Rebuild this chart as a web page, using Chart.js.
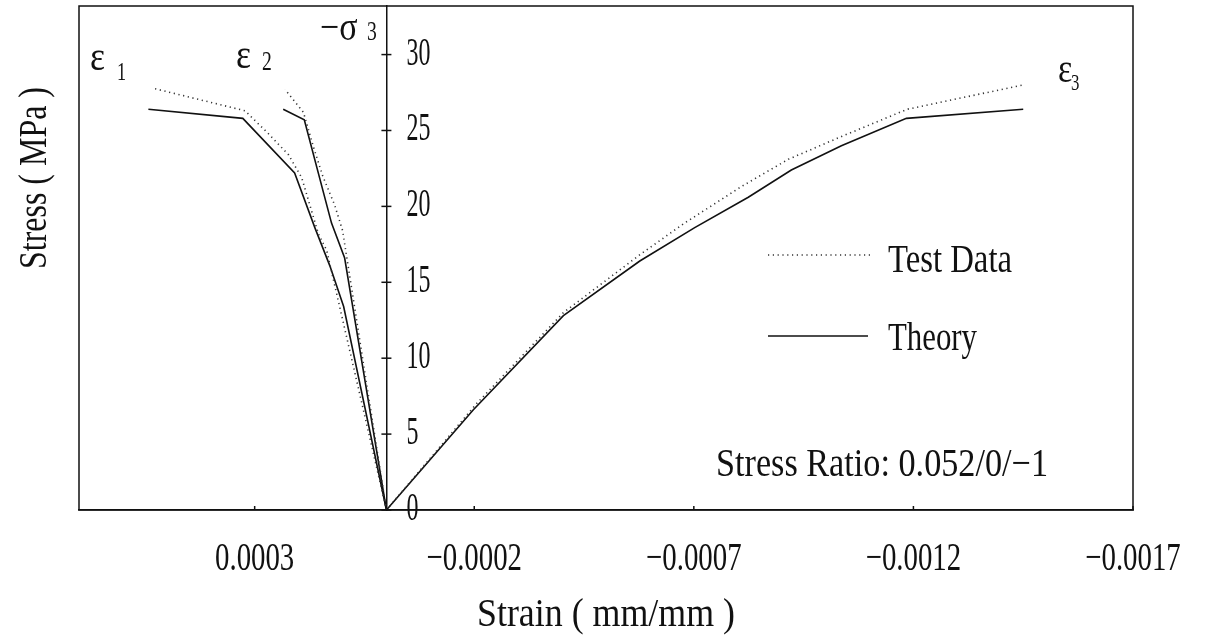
<!DOCTYPE html>
<html>
<head>
<meta charset="utf-8">
<title>Stress - Strain</title>
<script src="https://cdn.jsdelivr.net/npm/chart.js@4.4.1/dist/chart.umd.min.js"></script>
<style>
  html, body { margin: 0; padding: 0; background: #fff; }
  #wrap { width: 1207px; height: 644px; }
</style>
</head>
<body>
<div id="wrap"><canvas id="stressChart" width="1207" height="644"></canvas></div>
<script>
// x axis runs from +0.0007 (left) to -0.0017 (right)
const strainTicks = [0.0003, -0.0002, -0.0007, -0.0012, -0.0017];
const strainTickLabels = ['0.0003', '\u22120.0002', '\u22120.0007', '\u22120.0012', '\u22120.0017'];
const stressTicks = [0, 5, 10, 15, 20, 25, 30];
const stressTickLabels = ['0', '5', '10', '15', '20', '25', '30'];

// theory curves
const theoryE1Strain = [0, 0.0000974, 0.000129, 0.000163, 0.000209, 0.000327, 0.000542];
const theoryE1Stress = [0, 13.4, 16.1, 18.6, 22.2, 25.8, 26.4];
const theoryE2Strain = [0, 0.0000951, 0.000125, 0.000187, 0.000235];
const theoryE2Stress = [0, 16.6, 18.9, 25.7, 26.4];
const theoryE3Strain = [0, -0.000198, -0.000403, -0.000577, -0.000702, -0.000824, -0.000922, -0.001036, -0.001184, -0.00145];
const theoryE3Stress = [0, 6.6, 12.8, 16.4, 18.6, 20.6, 22.4, 24.0, 25.8, 26.4];

// test data
const testE1Strain = [0, 0.000136, 0.000155, 0.000193, 0.000223, 0.000269, 0.000322, 0.000534];
const testE1Stress = [0, 17.1, 18.2, 21.9, 23.4, 24.8, 26.3, 27.8];
const testE2Strain = [0, 0.0000906, 0.0000997, 0.000118, 0.000145, 0.000166, 0.000189, 0.000231];
const testE2Stress = [0, 16.7, 18.4, 20.1, 22.0, 23.9, 26.2, 27.7];
const testE3Strain = [0, -0.000205, -0.000403, -0.000581, -0.000679, -0.000808, -0.000915, -0.001036, -0.001186, -0.00145];
const testE3Stress = [0, 7.0, 13.0, 16.9, 18.9, 21.3, 23.1, 24.6, 26.4, 28.0];

const FONT = '"Liberation Serif", "DejaVu Serif", serif';
const INK = '#111';

function points(xs, ys) {
    return xs.map(function (x, i) { return { x: x, y: ys[i] }; });
}

function testSet(xs, ys) {
    return {
        data: points(xs, ys),
        borderColor: '#333',
        borderWidth: 1.6,
        borderDash: [1.2, 3.6],
        pointRadius: 0,
        tension: 0
    };
}

function theorySet(xs, ys) {
    return {
        data: points(xs, ys),
        borderColor: INK,
        borderWidth: 1.6,
        pointRadius: 0,
        tension: 0
    };
}

// narrow serif text, squeezed to a given width
function drawFit(ctx, str, x, y, size, width, align) {
    ctx.save();
    ctx.font = size + 'px ' + FONT;
    ctx.textBaseline = 'alphabetic';
    ctx.textAlign = 'left';
    const raw = ctx.measureText(str).width;
    const k = width / raw;
    let left = x;
    if (align === 'center') left = x - width / 2;
    else if (align === 'right') left = x - width;
    ctx.translate(left, y);
    ctx.scale(k, 1);
    ctx.fillStyle = INK;
    ctx.fillText(str, 0, 0);
    ctx.restore();
}

function drawSqueezed(ctx, str, x, y, size, squeeze, align) {
    ctx.save();
    ctx.font = size + 'px ' + FONT;
    const w = ctx.measureText(str).width * squeeze;
    ctx.restore();
    drawFit(ctx, str, x, y, size, w, align);
    return w;
}

const decorations = {
    id: 'decorations',
    afterDraw: function (chart) {
        const ctx = chart.ctx;
        const area = chart.chartArea;
        const xs = chart.scales.x;
        const ys = chart.scales.y;
        const x0 = xs.getPixelForValue(0);

        ctx.save();
        ctx.strokeStyle = INK;
        ctx.lineWidth = 1.5;
        ctx.strokeRect(area.left, area.top, area.right - area.left, area.bottom - area.top);

        // x ticks
        xs.ticks.forEach(function (t, i) {
            const px = xs.getPixelForValue(t.value);
            ctx.beginPath();
            ctx.moveTo(px, area.bottom);
            ctx.lineTo(px, area.bottom - 4);
            ctx.stroke();
            drawSqueezed(ctx, strainTickLabels[i], px, area.bottom + 60, 40, 0.72, 'center');
        });

        // y ticks cross the zero-strain axis
        ys.ticks.forEach(function (t, i) {
            const py = ys.getPixelForValue(t.value);
            ctx.beginPath();
            ctx.moveTo(x0 - 5, py);
            ctx.lineTo(x0 + 5, py);
            ctx.stroke();
            drawSqueezed(ctx, stressTickLabels[i], x0 + 20, py + 10, 40, 0.6, 'left');
        });

        // axis titles
        drawFit(ctx, 'Strain ( mm/mm )', (area.left + area.right) / 2, 626, 40, 258, 'center');
        ctx.save();
        ctx.translate(46, 178);
        ctx.rotate(-Math.PI / 2);
        drawFit(ctx, 'Stress ( MPa )', 0, 0, 40, 182, 'center');
        ctx.restore();

        // curve labels
        drawSqueezed(ctx, '\u03b5', 90, 70, 42, 0.85, 'left');
        drawSqueezed(ctx, '1', 117, 80, 26, 0.7, 'left');
        drawSqueezed(ctx, '\u03b5', 236, 68, 42, 0.85, 'left');
        drawSqueezed(ctx, '2', 262, 70, 28, 0.7, 'left');
        drawSqueezed(ctx, '\u2212\u03c3', 320, 40, 40, 0.85, 'left');
        drawSqueezed(ctx, '3', 367, 40, 28, 0.7, 'left');
        drawSqueezed(ctx, '\u03b5', 1058, 82, 40, 0.85, 'left');
        drawSqueezed(ctx, '3', 1071, 90, 24, 0.7, 'left');

        // legend
        ctx.lineWidth = 1.6;
        ctx.strokeStyle = '#333';
        ctx.setLineDash([1.2, 3.6]);
        ctx.beginPath();
        ctx.moveTo(768, 255);
        ctx.lineTo(870, 255);
        ctx.stroke();
        ctx.setLineDash([]);
        ctx.strokeStyle = INK;
        ctx.beginPath();
        ctx.moveTo(768, 336);
        ctx.lineTo(868, 336);
        ctx.stroke();
        drawFit(ctx, 'Test Data', 888, 272, 40, 124, 'left');
        drawFit(ctx, 'Theory', 888, 350, 40, 89, 'left');

        drawFit(ctx, 'Stress Ratio: 0.052/0/\u22121', 716, 476, 40, 332, 'left');
        ctx.restore();
    }
};

new Chart(document.getElementById('stressChart'), {
    type: 'line',
    data: {
        datasets: [
            testSet(testE1Strain, testE1Stress),
            testSet(testE2Strain, testE2Stress),
            testSet(testE3Strain, testE3Stress),
            theorySet(theoryE1Strain, theoryE1Stress),
            theorySet(theoryE2Strain, theoryE2Stress),
            theorySet(theoryE3Strain, theoryE3Stress)
        ]
    },
    options: {
        responsive: false,
        animation: false,
        layout: { padding: { left: 79, right: 74, top: 6, bottom: 134 } },
        plugins: {
            legend: { display: false },
            tooltip: { enabled: false }
        },
        scales: {
            x: {
                type: 'linear',
                min: -0.0017,
                max: 0.0007,
                reverse: true,
                grid: { display: false, drawTicks: false },
                border: { display: true, color: INK, width: 1.5 },
                ticks: { display: false },
                afterBuildTicks: function (scale) {
                    scale.ticks = strainTicks.map(function (v) { return { value: v }; });
                }
            },
            y: {
                type: 'linear',
                min: 0,
                max: 33.2,
                position: { x: 0 },
                grid: { display: false, drawTicks: false },
                border: { display: true, color: INK, width: 1.5 },
                ticks: { display: false },
                afterBuildTicks: function (scale) {
                    scale.ticks = stressTicks.map(function (v) { return { value: v }; });
                }
            }
        }
    },
    plugins: [decorations]
});
</script>
</body>
</html>
